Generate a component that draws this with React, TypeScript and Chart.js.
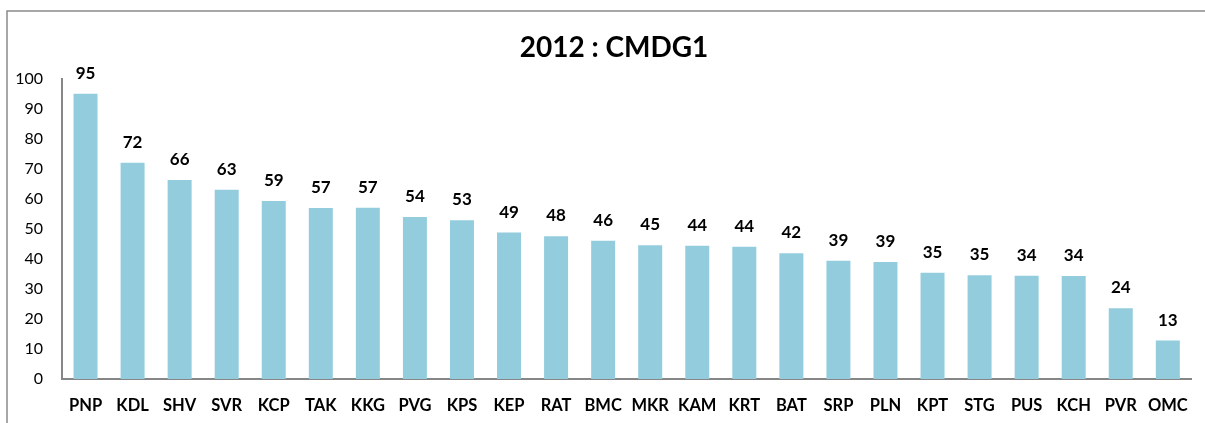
import React, { useEffect, useRef } from "react";
import { Chart, registerables } from "chart.js";

Chart.register(...registerables);

const title = "2012 : CMDG1";
const categories = ["PNP", "KDL", "SHV", "SVR", "KCP", "TAK", "KKG", "PVG", "KPS", "KEP", "RAT", "BMC", "MKR", "KAM", "KRT", "BAT", "SRP", "PLN", "KPT", "STG", "PUS", "KCH", "PVR", "OMC"];
const values = [95.1, 72.1, 66.3, 63.1, 59.3, 57.0, 57.1, 54.0, 52.9, 48.8, 47.6, 46.1, 44.6, 44.4, 44.1, 41.9, 39.4, 39.0, 35.4, 34.6, 34.4, 34.3, 23.6, 12.8];
const yTicks = [0, 10, 20, 30, 40, 50, 60, 70, 80, 90, 100];

const FONT = "Lato, 'Open Sans', sans-serif";

const decorPlugin = {
  id: "decor",
  afterDraw(chart: any) {
    const ctx = chart.ctx;
    ctx.save();
    // outer frame
    ctx.strokeStyle = "#8a8a8a";
    ctx.lineWidth = 1.5;
    ctx.beginPath();
    ctx.moveTo(7, 430);
    ctx.lineTo(7, 11);
    ctx.lineTo(1215, 11);
    ctx.stroke();
    // title
    ctx.fillStyle = "#000";
    ctx.font = `bold 28px ${FONT}`;
    ctx.textAlign = "center";
    ctx.textBaseline = "alphabetic";
    ctx.fillText(title, 614, 57);
    // value labels
    const meta = chart.getDatasetMeta(0);
    ctx.font = `bold 17px ${FONT}`;
    meta.data.forEach((bar: any, i: number) => {
      ctx.fillText(String(Math.round(values[i])), bar.x, bar.y - 15);
    });
    ctx.restore();
  },
};

export default function App() {
  const ref = useRef<HTMLCanvasElement>(null);
  useEffect(() => {
    if (!ref.current) return;
    const chart = new Chart(ref.current, {
      type: "bar",
      data: {
        labels: categories,
        datasets: [
          {
            data: values,
            backgroundColor: "#93CDDD",
            borderWidth: 0,
            barPercentage: 0.51,
            categoryPercentage: 1,
          },
        ],
      },
      options: {
        responsive: false,
        animation: false,
        devicePixelRatio: 1,
        layout: { padding: { top: 79, right: 13, left: 0, bottom: 0 } },
        plugins: { legend: { display: false }, tooltip: { enabled: false }, title: { display: false } },
        scales: {
          x: {
            grid: { display: false, drawTicks: false },
            border: { display: true, color: "#868686", width: 2 },
            ticks: { color: "#000", font: { family: FONT, size: 16.5, weight: "bold" }, padding: 17, maxRotation: 0, autoSkip: false },
            afterFit: (s: any) => { s.height = 44; },
          },
          y: {
            min: 0,
            max: 100,
            grid: { display: false, drawTicks: false },
            border: { display: true, color: "#868686", width: 2 },
            afterBuildTicks: (s: any) => { s.ticks = yTicks.map((v) => ({ value: v })); },
            ticks: { color: "#000", font: { family: FONT, size: 16 }, padding: 19 },
            afterFit: (s: any) => { s.width = 62; },
          },
        },
      },
      plugins: [decorPlugin],
    });
    return () => chart.destroy();
  }, []);
  return (
    <div style={{ position: "absolute", left: 0, top: 0, width: 1205, height: 423, background: "#fff" }}>
      <canvas ref={ref} width={1205} height={423} style={{ width: 1205, height: 423, display: "block" }} />
    </div>
  );
}
